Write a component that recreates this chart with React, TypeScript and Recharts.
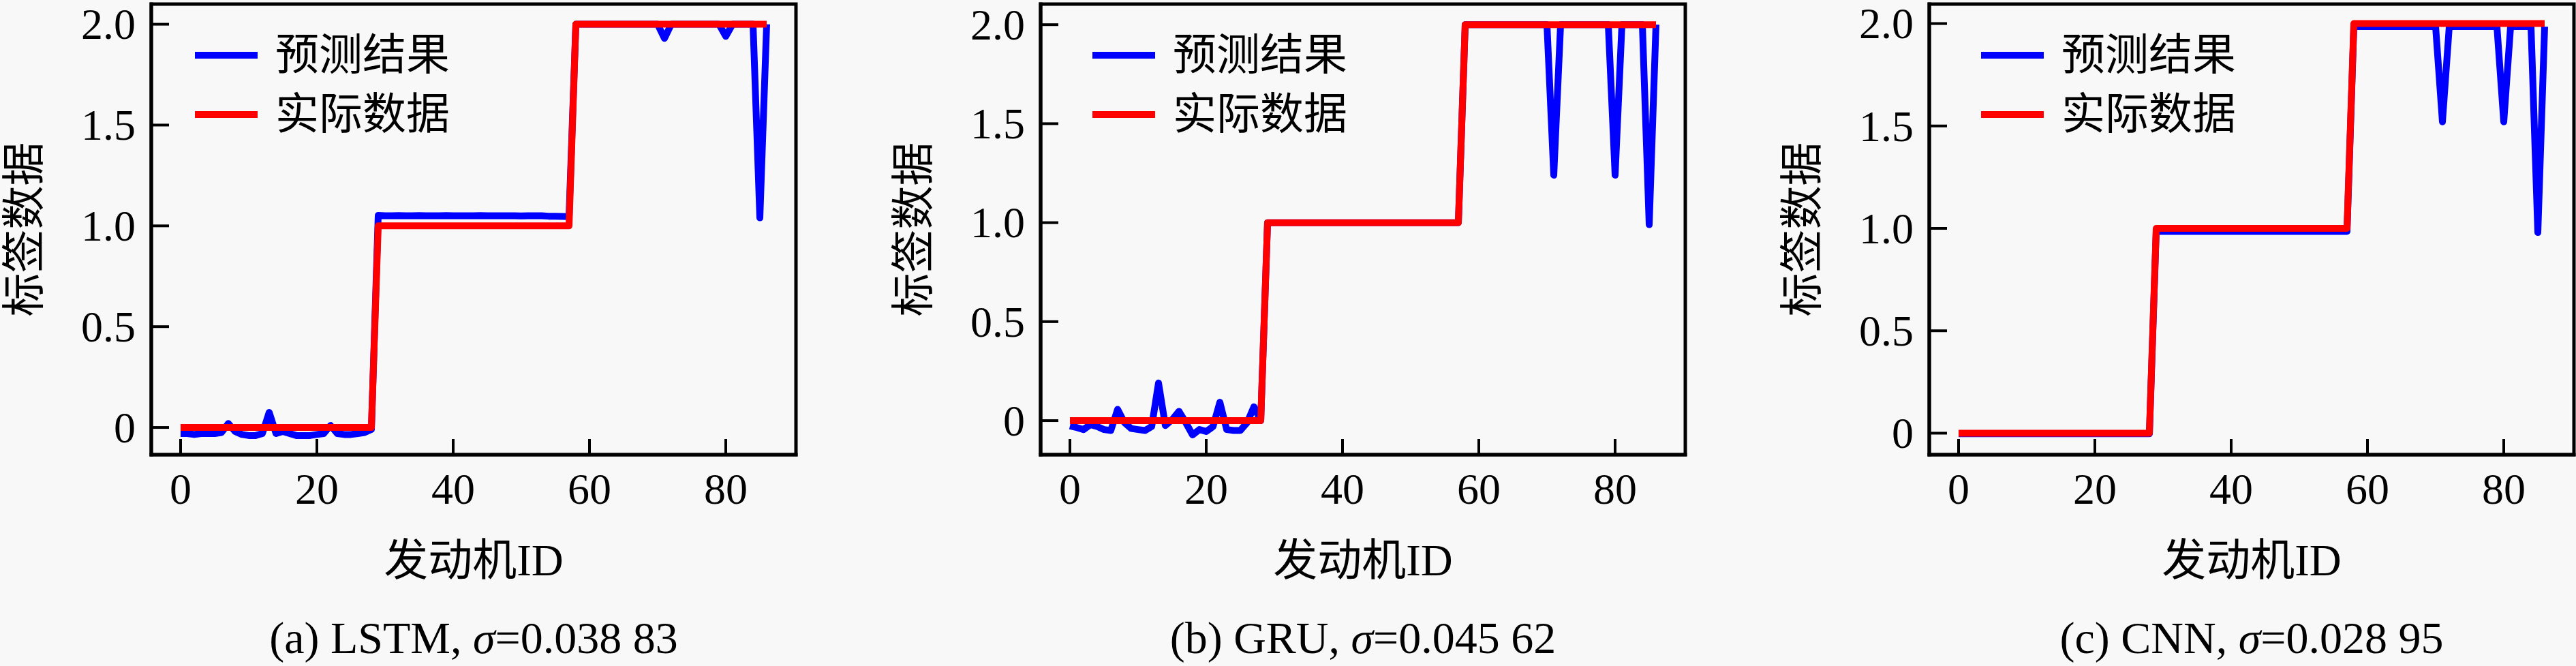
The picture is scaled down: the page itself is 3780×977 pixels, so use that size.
import React from 'react';
import { LineChart, Line, XAxis, YAxis, Legend, ReferenceArea } from 'recharts';

const engineIds = [
  0, 1, 2, 3, 4, 5, 6, 7, 8, 9, 10, 11, 12, 13, 14, 15, 16, 17, 18, 19,
  20, 21, 22, 23, 24, 25, 26, 27, 28, 29, 30, 31, 32, 33, 34, 35, 36, 37, 38, 39,
  40, 41, 42, 43, 44, 45, 46, 47, 48, 49, 50, 51, 52, 53, 54, 55, 56, 57, 58, 59,
  60, 61, 62, 63, 64, 65, 66, 67, 68, 69, 70, 71, 72, 73, 74, 75, 76, 77, 78, 79,
  80, 81, 82, 83, 84, 85, 86,
];

const actualLabels = [
  0, 0, 0, 0, 0, 0, 0, 0, 0, 0, 0, 0, 0, 0, 0, 0, 0, 0, 0, 0, 0, 0, 0, 0, 0, 0, 0, 0, 0,
  1, 1, 1, 1, 1, 1, 1, 1, 1, 1, 1, 1, 1, 1, 1, 1, 1, 1, 1, 1, 1, 1, 1, 1, 1, 1, 1, 1, 1,
  2, 2, 2, 2, 2, 2, 2, 2, 2, 2, 2, 2, 2, 2, 2, 2, 2, 2, 2, 2, 2, 2, 2, 2, 2, 2, 2, 2, 2,
];

const lstmPred = [
  -0.03, -0.03, -0.035, -0.03, -0.03, -0.03, -0.025, 0.02, -0.02, -0.035,
  -0.04, -0.04, -0.03, 0.075, -0.03, -0.02, -0.03, -0.04, -0.04, -0.04,
  -0.035, -0.03, 0.01, -0.03, -0.035, -0.035, -0.03, -0.025, -0.01,
  1.052, 1.05, 1.05, 1.051, 1.05, 1.05, 1.051, 1.05, 1.05, 1.05,
  1.051, 1.05, 1.05, 1.05, 1.05, 1.051, 1.05, 1.05, 1.05, 1.05,
  1.05, 1.049, 1.05, 1.05, 1.05, 1.048, 1.048, 1.047, 1.046,
  2.0, 2.0, 2.0, 2.0, 2.0, 2.0, 2.0, 2.0, 2.0, 2.0,
  2.0, 2.0, 2.0, 1.93, 2.0, 2.0, 2.0, 2.0, 2.0, 2.0,
  2.0, 2.0, 1.94, 2.0, 2.0, 2.0, 2.0, 1.04, 2.0,
];

const gruPred = [
  -0.027, -0.035, -0.045, -0.02, -0.03, -0.045, -0.05, 0.057, -0.01, -0.04,
  -0.045, -0.05, -0.03, 0.19, -0.025, 0.005, 0.047, -0.01, -0.072, -0.045,
  -0.055, -0.03, 0.093, -0.045, -0.05, -0.05, -0.01, 0.07, 0.0,
  1.0, 1.0, 1.0, 1.0, 1.0, 1.0, 1.0, 1.0, 1.0, 1.0,
  1.0, 1.0, 1.0, 1.0, 1.0, 1.0, 1.0, 1.0, 1.0, 1.0,
  1.0, 1.0, 1.0, 1.0, 1.0, 1.0, 1.0, 1.0, 1.0,
  2.0, 2.0, 2.0, 2.0, 2.0, 2.0, 2.0, 2.0, 2.0, 2.0,
  2.0, 2.0, 2.0, 1.24, 2.0, 2.0, 2.0, 2.0, 2.0, 2.0,
  2.0, 2.0, 1.24, 2.0, 2.0, 2.0, 2.0, 0.99, 2.0,
];

const cnnPred = [
  -0.003, -0.003, -0.003, -0.003, -0.003, -0.003, -0.003, -0.003, -0.003, -0.003,
  -0.003, -0.003, -0.003, -0.003, -0.003, -0.003, -0.003, -0.003, -0.003, -0.003,
  -0.003, -0.003, -0.003, -0.003, -0.003, -0.003, -0.003, -0.003, -0.003,
  0.985, 0.985, 0.985, 0.985, 0.985, 0.985, 0.985, 0.985, 0.985, 0.985,
  0.985, 0.985, 0.985, 0.985, 0.985, 0.985, 0.985, 0.985, 0.985, 0.985,
  0.985, 0.985, 0.985, 0.985, 0.985, 0.985, 0.985, 0.985, 0.985,
  1.985, 1.985, 1.985, 1.985, 1.985, 1.985, 1.985, 1.985, 1.985, 1.985,
  1.985, 1.985, 1.985, 1.52, 1.985, 1.985, 1.985, 1.985, 1.985, 1.985,
  1.985, 1.985, 1.52, 1.985, 1.985, 1.985, 1.985, 0.98, 1.985,
];

const xTicks = [0, 20, 40, 60, 80];
const yTicks = [0, 0.5, 1.0, 1.5, 2.0];
const xDomain: [number, number] = [-4.3, 90.3];

const seriesNames = ['预测结果', '实际数据'];
const xAxisTitle = '发动机ID';
const yAxisTitle = '标签数据';

const panels = [
  { key: 'a', tag: '(a) LSTM, ', sigma: '=0.038 83', pred: lstmPred, yDomain: [-0.135, 2.1] as [number, number] },
  { key: 'b', tag: '(b) GRU, ', sigma: '=0.045 62', pred: gruPred, yDomain: [-0.172, 2.104] as [number, number] },
  { key: 'c', tag: '(c) CNN, ', sigma: '=0.028 95', pred: cnnPred, yDomain: [-0.105, 2.095] as [number, number] },
];

const layouts = [
  { left: 0, width: 1305, legendLeft: 286 },
  { left: 1305, width: 1304, legendLeft: 298 },
  { left: 2609, width: 1171, legendLeft: 298 },
];

const FONT = "'Liberation Serif', 'Times New Roman', 'Noto Sans CJK SC', serif";
const BLUE = '#0000ff';
const RED = '#ff0000';
const PLOT_W = 946;
const PLOT_LEFT = 222;

const renderLegend = (props: any) => {
  const payload = [...(props.payload || [])].sort(
    (a: any, b: any) => seriesNames.indexOf(a.value) - seriesNames.indexOf(b.value)
  );
  return (
    <div style={{ fontFamily: FONT }}>
      {payload.map((entry: any, i: number) => (
        <div key={i} style={{ display: 'flex', alignItems: 'center', height: 87 }}>
          <svg width={92} height={12} style={{ display: 'block' }}>
            <line x1={0} x2={92} y1={6} y2={6} stroke={entry.color} strokeWidth={10} />
          </svg>
          <span style={{ marginLeft: 26, fontSize: 64, color: '#000', lineHeight: '87px', whiteSpace: 'nowrap', fontFamily: FONT }}>
            {entry.value}
          </span>
        </div>
      ))}
    </div>
  );
};

const XTick = (props: any) => (
  <text x={props.x} y={props.y} dy="0.7em" textAnchor="middle" fontSize={64} fontFamily={FONT} fill="#000">
    {props.payload.value}
  </text>
);

const YTick = (props: any) => {
  const v = props.payload.value;
  return (
    <text x={props.x} y={props.y} dy="0.34em" textAnchor="end" fontSize={64} fontFamily={FONT} fill="#000">
      {v === 0 ? '0' : Number(v).toFixed(1)}
    </text>
  );
};

function Panel({ idx }: { idx: number }) {
  const p = panels[idx];
  const lay = layouts[idx];
  const data = engineIds.map((id, i) => ({ id, pred: p.pred[i], actual: actualLabels[i] }));
  const rightMargin = lay.width - PLOT_LEFT - PLOT_W;

  const XLabel = (lp: any) => {
    const vb = lp.viewBox || {};
    const cx = vb.x + vb.width / 2;
    const base = vb.y + vb.height;
    return (
      <g>
        <text x={cx} y={base + 55} textAnchor="middle" dominantBaseline="central" fontSize={65} fontFamily={FONT} fill="#000">
          {xAxisTitle}
        </text>
        <text x={cx} y={base + 168} textAnchor="middle" dominantBaseline="central" fontSize={66} fontFamily={FONT} fill="#000">
          {p.tag}
          <tspan fontStyle="italic">σ</tspan>
          {p.sigma}
        </text>
      </g>
    );
  };

  const YLabel = (lp: any) => {
    const vb = lp.viewBox || {};
    const x = vb.x - 37;
    const y = vb.y + vb.height / 2;
    return (
      <text x={x} y={y} transform={`rotate(-90, ${x}, ${y})`} textAnchor="middle" dominantBaseline="central" fontSize={64} fontFamily={FONT} fill="#000">
        {yAxisTitle}
      </text>
    );
  };

  const axisLine = { stroke: '#000', strokeWidth: 5, strokeLinecap: 'square' as const };
  const tickLine = { stroke: '#000', strokeWidth: 4 };

  return (
    <div style={{ position: 'absolute', left: lay.left, top: 0, width: lay.width, height: 977 }}>
      <LineChart
        width={lay.width}
        height={977}
        data={data}
        margin={{ top: 6, right: rightMargin, bottom: 210, left: 72 }}
      >
        <XAxis
          dataKey="id"
          type="number"
          domain={xDomain}
          allowDataOverflow
          ticks={xTicks}
          height={100}
          axisLine={axisLine}
          tickLine={tickLine}
          tickSize={-23}
          tickMargin={50}
          tick={XTick}
          interval={0}
          label={{ content: XLabel }}
        />
        <YAxis
          type="number"
          domain={p.yDomain}
          allowDataOverflow
          ticks={yTicks}
          width={150}
          axisLine={axisLine}
          tickLine={tickLine}
          tickSize={-26}
          tickMargin={49}
          tick={YTick}
          interval={0}
          label={{ content: YLabel }}
        />
        <Legend
          layout="vertical"
          align="center"
          verticalAlign="middle"
          content={renderLegend}
          wrapperStyle={{ left: lay.legendLeft, top: 37, width: 420, height: 174 }}
        />
        <Line
          name={seriesNames[0]}
          dataKey="pred"
          type="linear"
          stroke={BLUE}
          strokeWidth={10}
          dot={false}
          activeDot={false}
          strokeLinejoin="round"
          isAnimationActive={false}
        />
        <Line
          name={seriesNames[1]}
          dataKey="actual"
          type="linear"
          stroke={RED}
          strokeWidth={10}
          dot={false}
          activeDot={false}
          strokeLinejoin="round"
          isAnimationActive={false}
        />
        <ReferenceArea
          x1={xDomain[0]}
          x2={xDomain[1]}
          y1={p.yDomain[0]}
          y2={p.yDomain[1]}
          fill="none"
          fillOpacity={0}
          stroke="#000"
          strokeWidth={5}
          ifOverflow="visible"
        />
      </LineChart>
    </div>
  );
}

export default function App() {
  return (
    <div style={{ position: 'absolute', left: 0, top: 0, width: 3780, height: 977, background: '#f8f8f8', overflow: 'hidden' }}>
      <Panel idx={0} />
      <Panel idx={1} />
      <Panel idx={2} />
    </div>
  );
}
